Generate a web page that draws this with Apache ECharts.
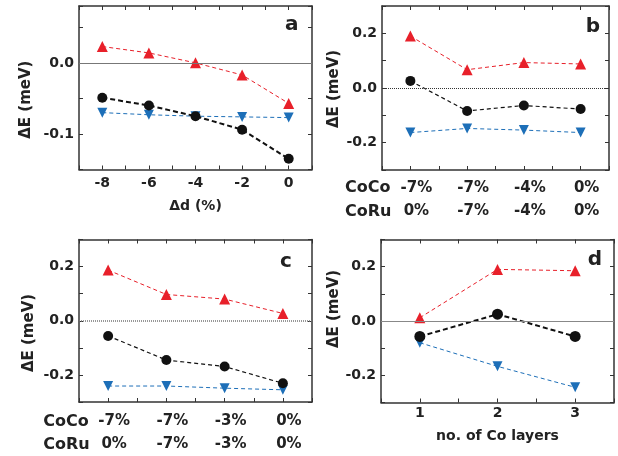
<!DOCTYPE html>
<html>
<head>
<meta charset="utf-8">
<script src="https://cdn.jsdelivr.net/npm/echarts@6/dist/echarts.min.js"></script>
<style>
  html, body { margin: 0; padding: 0; background: #fff; }
  #main { width: 618px; height: 456px; }
</style>
</head>
<body>
<div id="main"></div>
<script>
// panel a: strain dependence
var aStrain = [-8, -6, -4, -2, 0];
var aRed = [0.023, 0.014, 0.0, -0.017, -0.057];
var aBlack = [-0.049, -0.060, -0.075, -0.094, -0.135];
var aBlue = [-0.070, -0.073, -0.075, -0.076, -0.077];

// panel b
var bCoCo = ['-7%', '-7%', '-4%', '0%'];
var bCoRu = ['0%', '-7%', '-4%', '0%'];
var bRed = [0.190, 0.067, 0.093, 0.088];
var bBlack = [0.026, -0.084, -0.064, -0.077];
var bBlue = [-0.163, -0.148, -0.154, -0.163];

// panel c
var cCoCo = ['-7%', '-7%', '-3%', '0%'];
var cCoRu = ['0%', '-7%', '-3%', '0%'];
var cRed = [0.187, 0.097, 0.080, 0.027];
var cBlack = [-0.056, -0.145, -0.169, -0.231];
var cBlue = [-0.241, -0.241, -0.249, -0.255];

// panel d
var dLayers = [1, 2, 3];
var dRed = [0.012, 0.190, 0.185];
var dBlack = [-0.057, 0.025, -0.057];
var dBlue = [-0.080, -0.167, -0.244];

var font = 'DejaVu Sans';
var axisColor = '#333';
var red = '#e8202a', blue = '#1d6fb8', black = '#111';

function isInt(v) { return Math.abs(v - Math.round(v)) < 1e-6; }

function frameAxis(type, grid, pos, min, max, interval, fmt, label) {
    return {
        type: 'value', gridIndex: grid, position: pos,
        min: min, max: max, interval: interval,
        axisLine: {show: true, onZero: false, lineStyle: {color: axisColor, width: 1.5}},
        axisTick: {show: true, inside: true, length: 4, lineStyle: {color: axisColor, width: 1}},
        axisLabel: Object.assign({
            show: !!fmt, formatter: fmt, color: '#222',
            fontFamily: font, fontWeight: 'bold', fontSize: 14
        }, label || {}),
        splitLine: {show: false}
    };
}

function yFmt(v) {
    var r = Math.round(v * 10);
    if (Math.abs(v * 10 - r) > 1e-6 || r % 2 !== 0 || Math.abs(r) > 2) return '';
    return (r / 10).toFixed(1);
}
function yFmtA(v) {
    var r = Math.round(v * 100);
    if (Math.abs(v * 100 - r) > 1e-6 || r % 10 !== 0) return '';
    return (r / 100).toFixed(1);
}

// the strain labels sit a little right of their points in the original
var pctLabel = {lineHeight: 23, fontSize: 15, padding: [0, 0, 0, 12]};

var xAxes = [
    frameAxis('x', 0, 'bottom', -9, 1, 1, function (v) { return v % 2 === 0 ? String(v) : ''; }, {margin: 7}),
    frameAxis('x', 0, 'top', -9, 1, 1),
    frameAxis('x', 1, 'bottom', -0.5, 3.5, 0.5, function (v) {
        return isInt(v) ? bCoCo[Math.round(v)] + '\n' + bCoRu[Math.round(v)] : '';
    }, Object.assign({margin: 7}, pctLabel)),
    frameAxis('x', 1, 'top', -0.5, 3.5, 0.5),
    frameAxis('x', 2, 'bottom', -0.5, 3.5, 0.5, function (v) {
        return isInt(v) ? cCoCo[Math.round(v)] + '\n' + cCoRu[Math.round(v)] : '';
    }, Object.assign({margin: 8}, pctLabel)),
    frameAxis('x', 2, 'top', -0.5, 3.5, 0.5),
    frameAxis('x', 3, 'bottom', 0.5, 3.5, 0.5, function (v) {
        return isInt(v) && dLayers.indexOf(Math.round(v)) >= 0 ? String(Math.round(v)) : '';
    }, {margin: 4}),
    frameAxis('x', 3, 'top', 0.5, 3.5, 0.5)
];

var yAxes = [
    frameAxis('y', 0, 'left', -0.15, 0.08, 0.05, yFmtA, {margin: 5}),
    frameAxis('y', 0, 'right', -0.15, 0.08, 0.05),
    frameAxis('y', 1, 'left', -0.3, 0.3, 0.1, yFmt, {margin: 5}),
    frameAxis('y', 1, 'right', -0.3, 0.3, 0.1),
    frameAxis('y', 2, 'left', -0.3, 0.3, 0.1, yFmt, {margin: 5}),
    frameAxis('y', 2, 'right', -0.3, 0.3, 0.1),
    frameAxis('y', 3, 'left', -0.3, 0.3, 0.1, yFmt, {margin: 5}),
    frameAxis('y', 3, 'right', -0.3, 0.3, 0.1)
];

function pts(xs, ys) { return ys.map(function (y, i) { return [xs[i], y]; }); }
var idx4 = [0, 1, 2, 3];

function line(grid, data, color, symbol, rotate, size, width, dash) {
    return {
        type: 'line', xAxisIndex: grid * 2, yAxisIndex: grid * 2,
        data: data, symbol: symbol, symbolRotate: rotate, symbolSize: size,
        itemStyle: {color: color}, z: 3,
        lineStyle: {color: color, width: width, type: dash},
        animation: false
    };
}
function zeroLine(grid, style) {
    return {
        type: 'line', xAxisIndex: grid * 2, yAxisIndex: grid * 2, data: [],
        markLine: {silent: true, symbol: 'none', label: {show: false},
            lineStyle: style, data: [{yAxis: 0}], animation: false}
    };
}

var series = [
    zeroLine(0, {color: '#777', width: 1, type: 'solid'}),
    line(0, pts(aStrain, aBlue), blue, 'triangle', 180, 10, 1, [4, 3]),
    line(0, pts(aStrain, aRed), red, 'triangle', 0, 11, 1, [4, 3]),
    line(0, pts(aStrain, aBlack), black, 'circle', 0, 10, 2, [5, 3]),

    zeroLine(1, {color: '#333', width: 1, type: [1, 1]}),
    line(1, pts(idx4, bBlue), blue, 'triangle', 180, 10, 1, [4, 3]),
    line(1, pts(idx4, bRed), red, 'triangle', 0, 11, 1, [4, 3]),
    line(1, pts(idx4, bBlack), black, 'circle', 0, 10, 1.2, [4, 3]),

    zeroLine(2, {color: '#777', width: 1.5, type: [1, 1]}),
    line(2, pts(idx4, cBlue), blue, 'triangle', 180, 10, 1, [4, 3]),
    line(2, pts(idx4, cRed), red, 'triangle', 0, 11, 1, [4, 3]),
    line(2, pts(idx4, cBlack), black, 'circle', 0, 10, 1.2, [4, 3]),

    zeroLine(3, {color: '#888', width: 1.2, type: 'solid'}),
    line(3, pts(dLayers, dBlue), blue, 'triangle', 180, 10, 1, [4, 3]),
    line(3, pts(dLayers, dRed), red, 'triangle', 0, 11, 1, [4, 3]),
    line(3, pts(dLayers, dBlack), black, 'circle', 0, 11, 2, [5, 3])
];

function txt(text, x, y, size, opts) {
    return Object.assign({
        type: 'text', x: x, y: y, silent: true,
        style: {text: text, fill: '#222', font: 'bold ' + size + 'px "' + font + '"',
            textAlign: 'center', textVerticalAlign: 'middle'}
    }, opts || {});
}
function rowLabel(text, x, y) {
    var t = txt(text, x, y, 16);
    t.style.textAlign = 'left';
    return t;
}

var graphics = [
    txt('a', 291.7, 25, 20), txt('b', 593, 26.5, 20),
    txt('c', 286, 261.5, 20), txt('d', 595, 259.5, 20),
    txt('ΔE (meV)', 25.7, 99.7, 15, {rotation: Math.PI / 2}),
    txt('ΔE (meV)', 334, 89, 15, {rotation: Math.PI / 2}),
    txt('ΔE (meV)', 29, 333, 15, {rotation: Math.PI / 2}),
    txt('ΔE (meV)', 334, 309, 15, {rotation: Math.PI / 2}),
    txt('Δd (%)', 195.5, 206.7, 14),
    txt('no. of Co layers', 497.5, 436, 14),
    rowLabel('CoCo', 345, 188.3), rowLabel('CoRu', 345, 211.7),
    rowLabel('CoCo', 43.3, 421.7), rowLabel('CoRu', 43.3, 445)
];

var myChart = echarts.init(document.getElementById('main'));
myChart.setOption({
    animation: false,
    backgroundColor: '#fff',
    grid: [
        {left: 79, top: 6, width: 233, height: 163.5},
        {left: 382, top: 6, width: 231, height: 164},
        {left: 79, top: 239.5, width: 233, height: 163},
        {left: 381, top: 239.5, width: 233, height: 163}
    ],
    xAxis: xAxes,
    yAxis: yAxes,
    series: series,
    graphic: graphics
});
</script>
</body>
</html>
